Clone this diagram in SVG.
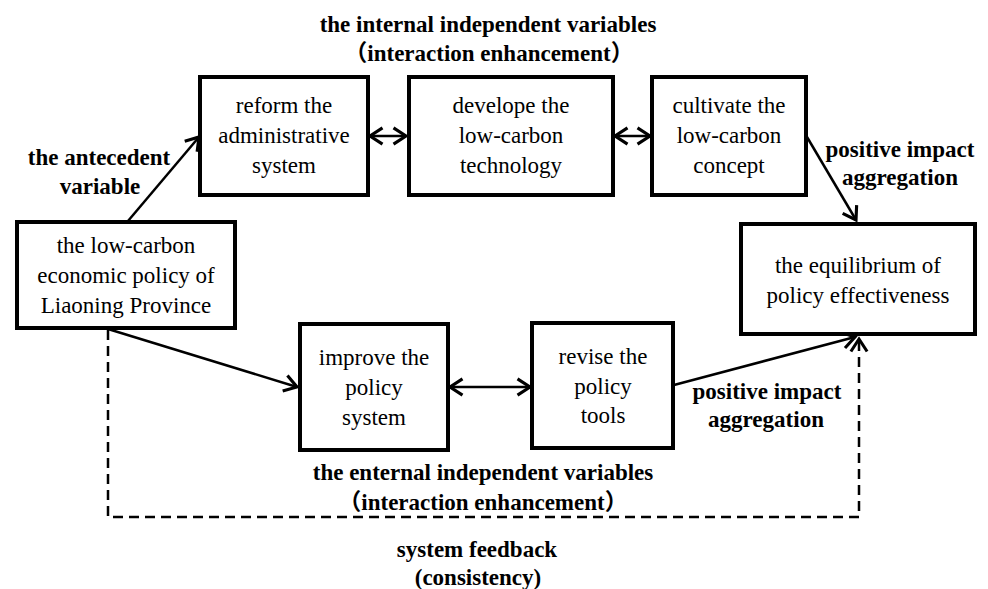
<svg xmlns="http://www.w3.org/2000/svg" width="988" height="589" viewBox="0 0 988 589">
<style>
.t{font-family:'Liberation Serif',serif;font-size:23px;text-anchor:middle;fill:#000}
.b{font-family:'Liberation Serif','Noto Sans CJK SC',serif;font-size:23px;font-weight:bold;text-anchor:middle;fill:#000}
.box{fill:#fff;stroke:#000;stroke-width:4}
.c{fill:none;stroke:#000;stroke-width:2.5}
.d{fill:none;stroke:#000;stroke-width:2.5;stroke-dasharray:10 6}
</style>
<defs>
<marker id="ah" markerUnits="userSpaceOnUse" markerWidth="20" markerHeight="20" viewBox="-12 -8 14 16" refX="0" refY="0" orient="auto-start-reverse">
<path d="M-10,-6.5 L0,0 L-10,6.5" fill="none" stroke="#000" stroke-width="2.5"/>
</marker>
</defs>
<g id="connectors">
<line class="c" x1="128" y1="221" x2="199" y2="137" marker-end="url(#ah)"/>
<line class="c" x1="370" y1="136" x2="406" y2="136" marker-start="url(#ah)" marker-end="url(#ah)"/>
<line class="c" x1="615" y1="136" x2="650" y2="136" marker-start="url(#ah)" marker-end="url(#ah)"/>
<line class="c" x1="807" y1="137" x2="856" y2="220" marker-end="url(#ah)"/>
<line class="c" x1="108" y1="329" x2="297" y2="387" marker-end="url(#ah)"/>
<line class="c" x1="450" y1="387" x2="530" y2="387" marker-start="url(#ah)" marker-end="url(#ah)"/>
<line class="c" x1="674" y1="385" x2="855" y2="337" marker-end="url(#ah)"/>
<polyline class="d" points="108,330 108,517 859,517 859,339" marker-end="url(#ah)"/>
</g>
<g id="n-reform"><rect class="box" x="200" y="77" width="168" height="118"/>
<text class="t" x="284" y="113">reform the</text><text class="t" x="284" y="143">administrative</text><text class="t" x="284" y="173">system</text></g>
<g id="n-develope"><rect class="box" x="409" y="77" width="204" height="118"/>
<text class="t" x="511" y="113">develope the</text><text class="t" x="511" y="143">low-carbon</text><text class="t" x="511" y="173">technology</text></g>
<g id="n-cultivate"><rect class="box" x="652" y="77" width="154" height="118"/>
<text class="t" x="729" y="113">cultivate the</text><text class="t" x="729" y="143">low-carbon</text><text class="t" x="729" y="173">concept</text></g>
<g id="n-policy"><rect class="box" x="17" y="222" width="218" height="106"/>
<text class="t" x="126" y="253">the low-carbon</text><text class="t" x="126" y="283">economic policy of</text><text class="t" x="126" y="313">Liaoning Province</text></g>
<g id="n-equilibrium"><rect class="box" x="741" y="224" width="234" height="110"/>
<text class="t" x="858" y="273">the equilibrium of</text><text class="t" x="858" y="303">policy effectiveness</text></g>
<g id="n-improve"><rect class="box" x="300" y="324" width="148" height="126"/>
<text class="t" x="374" y="365">improve the</text><text class="t" x="374" y="395">policy</text><text class="t" x="374" y="425">system</text></g>
<g id="n-revise"><rect class="box" x="532" y="323" width="141" height="125"/>
<text class="t" x="603" y="364">revise the</text><text class="t" x="603" y="394">policy</text><text class="t" x="603" y="423">tools</text></g>
<g id="labels">
<text class="b" x="488" y="32">the internal independent variables</text>
<text class="b" x="489" y="61">（interaction enhancement）</text>
<text class="b" x="99" y="165">the antecedent</text>
<text class="b" x="100" y="194">variable</text>
<text class="b" x="900" y="157">positive impact</text>
<text class="b" x="900" y="185">aggregation</text>
<text class="b" x="767" y="399">positive impact</text>
<text class="b" x="766" y="427">aggregation</text>
<text class="b" x="483" y="480">the enternal independent variables</text>
<text class="b" x="483" y="510">（interaction enhancement）</text>
<text class="b" x="477" y="557">system feedback</text>
<text class="b" x="478" y="585">(consistency)</text>
</g>
</svg>
